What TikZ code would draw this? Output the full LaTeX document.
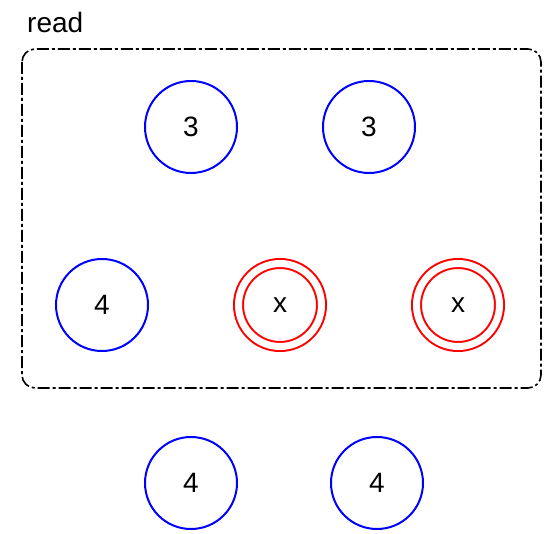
\documentclass[tikz,border=0pt]{standalone}
\usepackage{fontspec}
\setmainfont{Liberation Sans}
\usepackage{tikz}

\begin{document}
\begin{tikzpicture}[x=1pt, y=-1pt,
  state/.style={circle, draw=blue, line width=2pt, minimum size=92pt,
    inner sep=0pt, font=\fontsize{28}{28}\selectfont},
  accept/.style={circle, draw=red, double=white, double distance=7pt,
    line width=2pt, minimum size=83pt, inner sep=0pt,
    font=\fontsize{28}{28}\selectfont},
  groupframe/.style={draw=black, line width=1.6pt, rounded corners=13pt,
    dash pattern=on 12pt off 3pt on 3pt off 3pt}]

\useasboundingbox (0,0) rectangle (548,534);

% dash dot frame with its label
\draw[groupframe] (22,49) rectangle (541,388);
\path
(27,33) node [anchor=base west, inner sep=0pt, font=\fontsize{28}{28}\selectfont] (readlabel) {read};

% blue states inside the frame
\path
(191,127) node [state] (top1) {3}
(369,127) node [state] (top2) {3}
(102,305) node [state] (mid1) {4};

%% red double states
\path
(280,305) node [accept] (mid2) {x}
(458,305) node [accept] (mid3) {x};

% blue states below the frame
\path
(191,483) node [state] (bottom1) {4}
(377,483) node [state] (bottom2) {4};

\end{tikzpicture}
\end{document}
